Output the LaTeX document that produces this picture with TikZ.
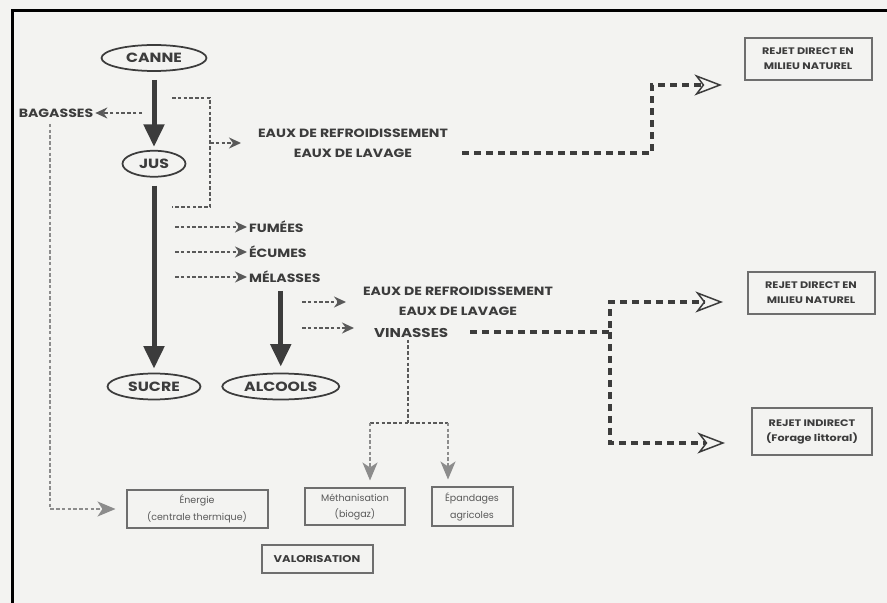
\documentclass[tikz,border=0pt]{standalone}
\usepackage{fontspec}
\setmainfont{Poppins}[FakeStretch=1.18]
\newfontfamily\valofont{Poppins}
\usetikzlibrary{positioning,arrows.meta,calc,shapes.geometric}

\definecolor{encre}{HTML}{3C3C3C}
\definecolor{gris}{HTML}{6E6E6E}
\definecolor{grisclair}{HTML}{8C8C8C}
\definecolor{fond}{HTML}{F3F3F1}

\begin{document}
\begin{tikzpicture}[
		x=0.2mm, y=-0.2mm,
		every node/.style={font=\fontsize{6.8}{11.4}\selectfont\bfseries, align=center, text=encre, inner sep=1pt},
		oval/.style={ellipse, draw=encre, line width=0.35mm, minimum height=5.2mm, inner sep=0pt, font=\fontsize{7.6}{8}\selectfont\bfseries},
		rejetbox/.style={draw=gris, line width=0.4mm, font=\fontsize{5.4}{8.5}\selectfont\bfseries, minimum width=25.4mm, minimum height=8.4mm},
		valobox/.style={draw=gris, line width=0.4mm, font=\valofont\fontsize{5.4}{9.5}\selectfont, text=encre!85, minimum height=7.6mm},
		flux/.style={line width=1mm, draw=encre, -{Triangle[length=4.5mm,width=4mm]}},
		pointille/.style={line width=0.35mm, draw=encre!85, dash pattern=on 0.7mm off 0.45mm},
		petite/.style={pointille, -{Stealth[length=2.4mm,width=2.2mm]}},
		versvalo/.style={pointille, draw=grisclair, -{Stealth[length=3.6mm,width=3mm,inset=1mm]}},
		rejet/.style={line width=0.7mm, draw=encre, dash pattern=on 1.4mm off 1mm,
			-{Stealth[open,length=5.5mm,width=4.2mm,inset=1.6mm,line width=0.3mm]}}
		]
		% Fond et bord du cliché
		\useasboundingbox (0,0) rectangle (887,603);
		\fill[fond] (0,0) rectangle (887,603);
		\draw[line width=0.6mm, black] (12,603) -- (12,11) -- (887,11);
		
		% Chaîne principale
		\node[oval, minimum width=21mm] (canne) at (154,58) {CANNE};
		\node[oval, minimum width=12.6mm, below=15.6mm of canne] (jus) {JUS};
		\node[oval, minimum width=18.6mm, below=39mm of jus] (sucre) {SUCRE};
		\node[oval, minimum width=23.4mm, right=4mm of sucre] (alcools) {ALCOOLS};
		
		% Sous-produits
		\node (bagasses) at (56,113) {BAGASSES};
		\node (eauxA) at (353,143) {EAUX DE REFROIDISSEMENT\\EAUX DE LAVAGE};
		\node[anchor=west] (fumees) at (247,227) {FUMÉES};
		\node[anchor=west] (ecumes) at (247,252) {ÉCUMES};
		\node[anchor=west] (melasses) at (247,277) {MÉLASSES};
		\node (eauxB) at (458,301) {EAUX DE REFROIDISSEMENT\\EAUX DE LAVAGE};
		\node[anchor=west, font=\fontsize{7.3}{8}\selectfont\bfseries] (vinasses) at (372,333) {VINASSES};
		
		% Rejets
		\node[rejetbox] (rejetA) at (808,59) {REJET DIRECT EN\\MILIEU NATUREL};
		\node[rejetbox] (rejetB) at (811,293) {REJET DIRECT EN\\MILIEU NATUREL};
		\node[rejetbox, minimum width=24mm, minimum height=9.4mm] (rejetC) at (812,432) {REJET INDIRECT\\(Forage littoral)};
		
		% Valorisation
		\node[valobox, minimum width=28.2mm] (energie) at (197,509) {Énergie\\(centrale thermique)};
		\node[valobox, minimum width=20mm, minimum height=7.4mm] (metha) at (355,507) {Méthanisation\\(biogaz)};
		\node[valobox, minimum width=16.2mm, minimum height=7.8mm] (epand) at (472,507) {Épandages\\agricoles};
		\node[valobox, font=\fontsize{5.6}{6}\selectfont\bfseries, text=encre, minimum width=22.2mm, minimum height=5.6mm] (valo) at (317,559) {VALORISATION};
		
		% Points de passage
		\coordinate (cb) at (142,113);
		\coordinate (bg) at (50,124);
		\coordinate (b1) at (172,98);
		\coordinate (b2) at (210,98);
		\coordinate (b3) at (210,207);
		\coordinate (b4) at (172,207);
		\coordinate (b5) at (210,143);
		\coordinate (f1) at (175,227);
		\coordinate (f2) at (175,252);
		\coordinate (f3) at (175,277);
		\coordinate (m1) at (302,302);
		\coordinate (m2) at (302,328);
		\coordinate (nv) at (408,423);
		\coordinate (nm) at (370,423);
		\coordinate (ne) at (448,423);
		\coordinate (ra) at (462,153);
		\coordinate (da) at (652,153);
		\coordinate (db) at (652,85);
		\coordinate (ta) at (722,85);
		\coordinate (rv) at (470,332);
		\coordinate (dv) at (610,332);
		\coordinate (tb) at (723,302);
		\coordinate (tc) at (725,443);
		
		% Flux principaux
		\draw[flux, shorten <=1.6mm, shorten >=0.6mm] (canne) -- (jus);
		\draw[flux, shorten <=1.6mm, shorten >=0.8mm] (jus) -- (jus |- sucre.north);
		\draw[flux, shorten <=1.2mm, shorten >=1.2mm] (melasses.south -| alcools) -- (alcools);
		
		% Flèches pointillées
		\draw[petite] (cb) -- (bagasses);
		\draw[pointille] (b1) -- (b2) -- (b3) -- (b4);
		\draw[petite, shorten >=3mm] (b5) -- (eauxA.west |- b5);
		\draw[petite] (f1) -- (fumees);
		\draw[petite] (f2) -- (ecumes);
		\draw[petite] (f3) -- (melasses);
		\draw[petite, shorten >=3mm] (m1) -- (eauxB.west |- m1);
		\draw[petite, shorten >=3.6mm] (m2) -- (vinasses.west |- m2);
		\draw[versvalo, shorten >=2mm] (bg) |- (energie.west);
		\draw[pointille] (vinasses.south -| nv) -- (nv);
		\draw[pointille] (nm) -- (ne);
		\draw[versvalo, shorten >=1.4mm] (nm) -- (nm |- metha.north);
		\draw[versvalo, shorten >=1.4mm] (ne) -- (ne |- epand.north);
		
		% Rejets en tirets épais
		\draw[rejet] (ra) -- (da) -- (db) -- (ta);
		\draw[rejet] (rv) -- (dv) |- (tb);
		\draw[rejet] (dv) |- (tc);
	\end{tikzpicture}
\end{document}
